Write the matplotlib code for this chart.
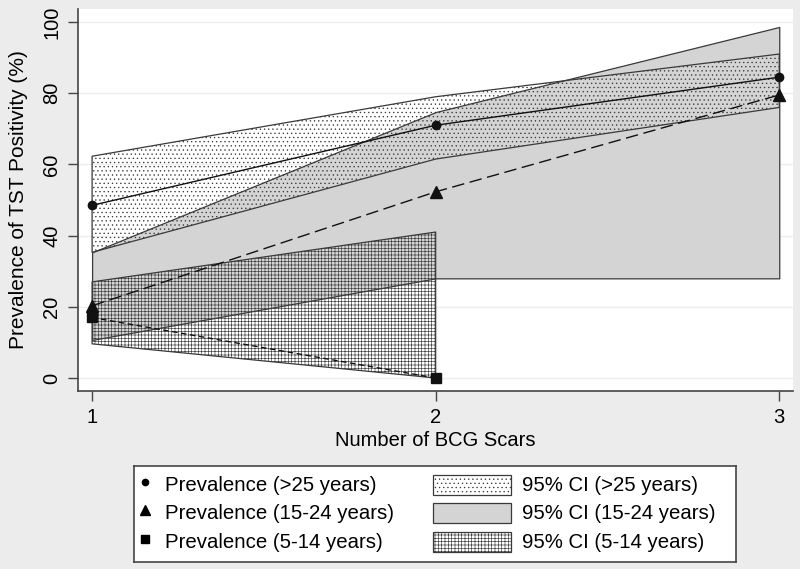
import matplotlib
matplotlib.use('Agg')
import matplotlib.pyplot as plt
from matplotlib.patches import Rectangle
from matplotlib.lines import Line2D

# data
scars = [1, 2, 3]
prev_25 = [48.5, 71, 84.5]
ci25_lo = [35.3, 61.5, 76]
ci25_hi = [62.3, 79, 91]

prev_15 = [20.3, 52.3, 79.5]
ci15_lo = [10.7, 28, 28]
ci15_hi = [35.3, 74.7, 98.6]

scars_5 = [1, 2]
prev_5 = [17, 0]
ci5_lo = [9.6, 0]
ci5_hi = [27, 41]

yticks = [0, 20, 40, 60, 80, 100]
xticks = [1, 2, 3]

legend_labels = ['Prevalence (>25 years)', 'Prevalence (15-24 years)', 'Prevalence (5-14 years)']
ci_labels = ['95% CI (>25 years)', '95% CI (15-24 years)', '95% CI (5-14 years)']

plt.rcParams['font.family'] = ['Liberation Sans', 'DejaVu Sans']
plt.rcParams['hatch.color'] = '#404040'
plt.rcParams['hatch.linewidth'] = 0.45

edge = '#3a3a3a'
gray = '#d4d4d4'

fig = plt.figure(figsize=(8, 5.69), dpi=100, facecolor='#ececec')
ax = fig.add_axes([0.0975, 0.3128, 0.89375, 0.6714])
ax.set_facecolor('white')

# CI bands
ax.fill_between(scars, ci15_lo, ci15_hi, facecolor=gray, edgecolor=edge, lw=0.9, zorder=2)
ax.fill_between(scars, ci25_lo, ci25_hi, facecolor='none', edgecolor=edge, lw=0.9,
                hatch='....', zorder=3)
ax.fill_between(scars_5, ci5_lo, ci5_hi, facecolor='none', edgecolor=edge, lw=0.9,
                hatch='+++++', zorder=4)

# prevalence lines
ax.plot(scars, prev_25, color='#111111', lw=1.0, marker='o', ms=6, zorder=6)
ax.plot(scars, prev_15, color='#111111', lw=1.0, ls=(0, (9, 4)), marker='^', ms=9, zorder=6)
ax.plot(scars_5, prev_5, color='#111111', lw=1.0, ls=(0, (4, 2.5)), marker='s', ms=7.5, zorder=6)

ax.set_xlim(0.959, 3.04)
ax.set_ylim(-3.65, 103.65)
ax.set_xticks(xticks)
ax.set_yticks(yticks)
ax.set_yticklabels([str(v) for v in yticks], rotation=90, va='center')
ax.tick_params(axis='both', direction='out', length=7, width=1, color='#444444',
               labelsize=14.5, pad=5)
ax.grid(axis='y', color='#eeeeee', lw=1, zorder=0)
ax.set_axisbelow(True)
for s in ['top', 'right']:
    ax.spines[s].set_visible(False)
for s in ['left', 'bottom']:
    ax.spines[s].set_color('#444444')
    ax.spines[s].set_linewidth(1.2)

ax.set_xlabel('Number of BCG Scars', fontsize=14.5, labelpad=3)
ax.set_ylabel('Prevalence of TST Positivity (%)', fontsize=15, labelpad=10)

# legend drawn in its own box
lax = fig.add_axes([0.1675, 0.0123, 0.7525, 0.1687])
lax.set_xlim(0, 602)
lax.set_ylim(96, 0)
lax.set_xticks([])
lax.set_yticks([])
lax.set_facecolor('white')
for s in lax.spines.values():
    s.set_color('#444444')
    s.set_linewidth(1.2)

rows = [19, 47, 76]
markers = [('o', 4.5), ('^', 7), ('s', 6)]
for y, (m, ms), lab in zip(rows, markers, legend_labels):
    lax.add_line(Line2D([11], [y - 3], marker=m, ms=ms, color='black', ls='none'))
    lax.text(31, y, lab, fontsize=14.7, va='center', ha='left')

patch_styles = [dict(facecolor='white', hatch='....'),
                dict(facecolor=gray, hatch=None),
                dict(facecolor='white', hatch='+++++')]
for y, st, lab in zip(rows, patch_styles, ci_labels):
    lax.add_patch(Rectangle((299, y - 10), 78, 20, edgecolor=edge, lw=0.9, **st))
    lax.text(388, y, lab, fontsize=14.7, va='center', ha='left')

fig.savefig('out.png', dpi=100, facecolor=fig.get_facecolor())
